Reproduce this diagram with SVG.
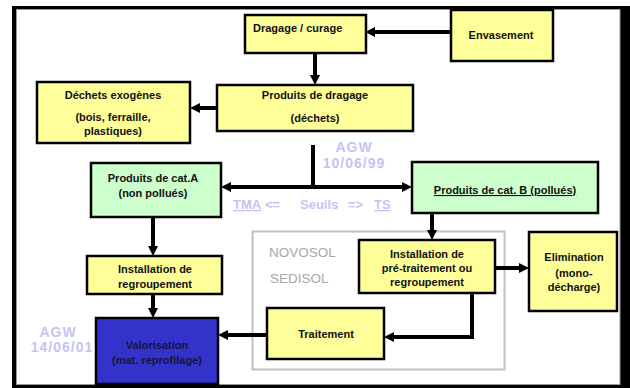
<svg xmlns="http://www.w3.org/2000/svg" width="630" height="388" viewBox="0 0 630 388">
<style>
.box{stroke:#000;stroke-width:2.5}
.y{fill:#ffff99}
.g{fill:#ccffcc}
.b{fill:#3333cc}
.t{font-family:"Liberation Sans",Arial,sans-serif;font-weight:bold;font-size:11px;fill:#111;text-anchor:middle}
.c{stroke:#000;stroke-width:4;fill:none}
.agw{font-family:"Liberation Sans",Arial,sans-serif;font-weight:bold;font-size:14px;fill:#c4c4f2;text-anchor:middle;letter-spacing:1px}
.s{font-family:"Liberation Sans",Arial,sans-serif;font-weight:bold;font-size:13px;fill:#c4c4f2}
.gr{font-family:"Liberation Sans",Arial,sans-serif;font-size:13.5px;fill:#a8a8a8}
</style>
<defs>
<marker id="ah" viewBox="0 0 10 10" markerWidth="10" markerHeight="10" markerUnits="userSpaceOnUse" refX="2" refY="5" orient="auto-start-reverse">
<path d="M0,0 L10,5 L0,10 z" fill="#000"/>
</marker>
</defs>
<rect x="0" y="0" width="630" height="388" fill="#fff"/>
<g id="frame">
<rect x="12" y="6" width="618" height="382" fill="#000"/>
<rect x="16.5" y="9.5" width="603.5" height="375" fill="#fff" stroke="#999" stroke-width="1"/>
</g>
<g id="novosol-zone">
<rect x="252.5" y="231.5" width="252" height="138" fill="none" stroke="#c0c0c0" stroke-width="2"/>
<text class="gr" x="269" y="257">NOVOSOL</text>
<text class="gr" x="270" y="283">SEDISOL</text>
</g>
<g id="connectors">
<path class="c" d="M451,32 H373" marker-end="url(#ah)"/>
<path class="c" d="M315,53 V77" marker-end="url(#ah)"/>
<path class="c" d="M217,108 H198" marker-end="url(#ah)"/>
<path class="c" d="M313,145 V187"/>
<path class="c" d="M229,187 H404" marker-start="url(#ah)" marker-end="url(#ah)"/>
<path class="c" d="M153,217 V248" marker-end="url(#ah)"/>
<path class="c" d="M153,294 V310" marker-end="url(#ah)"/>
<path class="c" d="M432,213 V232" marker-end="url(#ah)"/>
<path class="c" d="M495,268 H521" marker-end="url(#ah)"/>
<path class="c" d="M472,293 V337 H392" marker-end="url(#ah)"/>
<path class="c" d="M267,335 H226" marker-end="url(#ah)"/>
</g>
<g id="labels">
<text class="agw" x="354" y="152">AGW</text>
<text class="agw" x="354" y="168">10/06/99</text>
<text class="agw" x="58" y="337">AGW</text>
<text class="agw" x="62" y="352">14/06/01</text>
<text class="s" y="209"><tspan x="233" text-decoration="underline">TMA</tspan><tspan x="265">&lt;=</tspan><tspan x="300">Seuils</tspan><tspan x="348">=&gt;</tspan><tspan x="374" text-decoration="underline">TS</tspan></text>
</g>
<g id="dragage">
<rect class="box y" x="245" y="15" width="121" height="38"/>
<text class="t" x="253" y="32" style="text-anchor:start">Dragage / curage</text>
</g>
<g id="envasement">
<rect class="box y" x="451" y="10" width="102" height="51"/>
<text class="t" x="501" y="39">Envasement</text>
</g>
<g id="dechets">
<rect class="box y" x="37" y="82" width="153" height="61"/>
<text class="t" x="113" y="99">Déchets exogènes</text>
<text class="t" x="113" y="121">(bois, ferraille,</text>
<text class="t" x="113" y="135">plastiques)</text>
</g>
<g id="produits">
<rect class="box y" x="217" y="85" width="196" height="46"/>
<text class="t" x="315" y="99">Produits de dragage</text>
<text class="t" x="315" y="122">(déchets)</text>
</g>
<g id="catA">
<rect class="box g" x="91" y="163" width="130" height="54"/>
<text class="t" x="153" y="182">Produits de cat.A</text>
<text class="t" x="153" y="197">(non pollués)</text>
</g>
<g id="catB">
<rect class="box g" x="412" y="162" width="186" height="51"/>
<text class="t" x="505" y="194" text-decoration="underline">Produits de cat. B (pollués)</text>
</g>
<g id="regroupement">
<rect class="box y" x="87" y="256" width="135" height="38"/>
<text class="t" x="155" y="273">Installation de</text>
<text class="t" x="155" y="288">regroupement</text>
</g>
<g id="pretraitement">
<rect class="box y" x="359" y="240" width="136" height="53"/>
<text class="t" x="427" y="258">Installation de</text>
<text class="t" x="427" y="272">pré-traitement ou</text>
<text class="t" x="427" y="286">regroupement</text>
</g>
<g id="elimination">
<rect class="box y" x="529" y="232" width="88" height="79"/>
<text class="t" x="574" y="261">Elimination</text>
<text class="t" x="574" y="277">(mono-</text>
<text class="t" x="574" y="291">décharge)</text>
</g>
<g id="traitement">
<rect class="box y" x="267" y="308" width="117" height="51"/>
<text class="t" x="326" y="338">Traitement</text>
</g>
<g id="valorisation">
<rect class="box b" x="96" y="318" width="122" height="66"/>
<text class="t" x="157" y="349" style="fill:#151540">Valorisation</text>
<text class="t" x="157" y="364" style="fill:#151540">(mat. reprofilage)</text>
</g>
</svg>
